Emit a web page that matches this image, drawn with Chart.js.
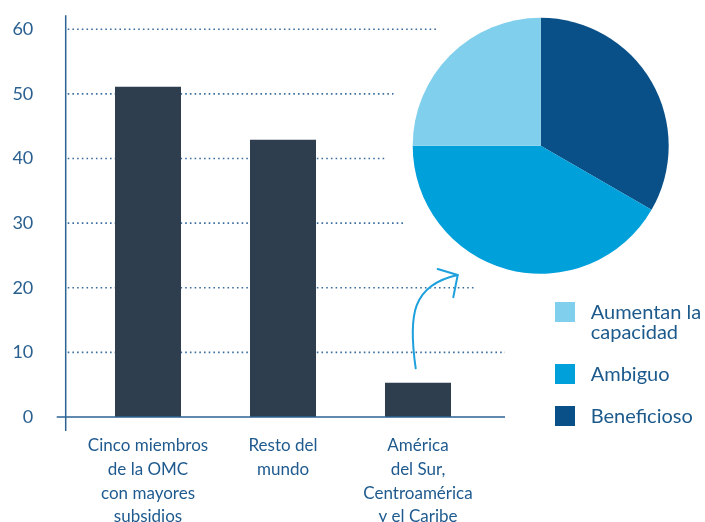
<!DOCTYPE html>
<html lang="es">
<head>
<meta charset="utf-8">
<script src="https://cdn.jsdelivr.net/npm/chart.js@4"></script>
<style>
  html, body { margin: 0; padding: 0; background: #ffffff; }
  #wrap { position: relative; width: 705px; height: 522px; overflow: hidden; }
  #wrap canvas { position: absolute; left: 0; top: 0; }
  #legend {
    position: absolute; left: 555px; top: 302px;
    display: flex; flex-direction: column; gap: 22.5px;
    font-family: Lato, "Open Sans", sans-serif; font-size: 20px; line-height: 19.5px;
    color: #1d5a8c;
  }
  .item { display: flex; align-items: flex-start; }
  .swatch { width: 20px; height: 20px; flex: none; margin-right: 15.7px; }
</style>
</head>
<body>
<div id="wrap">
  <canvas id="bars" width="705" height="522"></canvas>
  <canvas id="pie" width="705" height="522"></canvas>
  <div id="legend"></div>
</div>
<script>
// Bar chart: share of subsidies by group of members
const barCategories = [
  ['Cinco miembros', 'de la OMC', 'con mayores', 'subsidios'],
  ['Resto del', 'mundo'],
  ['América', 'del Sur,', 'Centroamérica', 'y el Caribe']
];
const barValues = [51.1, 42.9, 5.3];
const yTicks = [0, 10, 20, 30, 40, 50, 60];

// Pie chart: classification of subsidies (drawn clockwise from the top)
const pieLabels = ['Beneficioso', 'Ambiguo', ['Aumentan la', 'capacidad']];
const pieValues = [4, 5, 3];
const pieColors = ['#0a5088', '#00a0db', '#80cfed'];

const BAR_COLOR = '#2e3e4f';
const AXIS_COLOR = '#2d6393';
const GRID_COLOR = '#3a6e9e';
const TEXT_COLOR = '#1f5a8e';
const HALO = 28;          // white clearance around the pie
const GRID_RIGHT = 505;   // right end of the gridlines and the x axis

// shared geometry of the pie
const pieGeom = { x: 540.7, y: 145.8, r: 128 };

// Dotted gridlines, cut short around the pie, plus the two axis lines
const barDecor = {
  id: 'barDecor',
  beforeDatasetsDraw(chart) {
    const ctx = chart.ctx;
    const ys = chart.scales.y;
    const axisX = chart.chartArea.left - 14.8;
    const R = pieGeom.r + HALO;
    ctx.save();
    ctx.strokeStyle = GRID_COLOR;
    ctx.lineWidth = 1.6;
    ctx.setLineDash([1.6, 3.1]);
    yTicks.forEach(v => {
      if (v === 0) return;
      const py = ys.getPixelForValue(v);
      let end = GRID_RIGHT;
      const dy = py - pieGeom.y;
      if (Math.abs(dy) < R) end = Math.min(end, pieGeom.x - Math.sqrt(R * R - dy * dy));
      ctx.beginPath();
      ctx.moveTo(axisX + 2, py);
      ctx.lineTo(end, py);
      ctx.stroke();
    });
    ctx.restore();
  },
  afterDatasetsDraw(chart) {
    const ctx = chart.ctx;
    const ys = chart.scales.y;
    const axisX = chart.chartArea.left - 14.8;
    const y0 = ys.getPixelForValue(0);
    ctx.save();
    ctx.strokeStyle = AXIS_COLOR;
    ctx.lineWidth = 1.5;
    ctx.beginPath();
    ctx.moveTo(axisX, ys.getPixelForValue(60) - 14);
    ctx.lineTo(axisX, y0 + 14);
    ctx.moveTo(axisX - 9, y0);
    ctx.lineTo(GRID_RIGHT, y0);
    ctx.stroke();
    ctx.restore();
  }
};

new Chart(document.getElementById('bars'), {
  type: 'bar',
  data: {
    labels: barCategories,
    datasets: [{
      data: barValues,
      backgroundColor: BAR_COLOR,
      borderWidth: 0,
      categoryPercentage: 1,
      barPercentage: 0.489
    }]
  },
  options: {
    responsive: false,
    animation: false,
    devicePixelRatio: 1,
    layout: { padding: { top: 29.3, right: 219.5, left: 0, bottom: 0 } },
    plugins: { legend: { display: false }, tooltip: { enabled: false } },
    scales: {
      x: {
        grid: { display: false, drawTicks: false },
        border: { display: false },
        ticks: {
          color: TEXT_COLOR,
          padding: 17,
          maxRotation: 0,
          autoSkip: false,
          font: { family: 'Lato', size: 17, lineHeight: '23.7px' }
        },
        afterFit(scale) { scale.height = 105; }
      },
      y: {
        min: 0, max: 60,
        grid: { display: false, drawTicks: false },
        border: { display: false },
        ticks: {
          stepSize: 10,
          color: '#2a6090',
          padding: 47.2,
          font: { family: 'Lato', size: 18 }
        },
        afterFit(scale) {
          scale.width = 80.5;
          scale.paddingTop = 0;
          scale.paddingBottom = 0;
        }
      }
    }
  },
  plugins: [barDecor]
});

// White halo behind the pie and the curved arrow pointing to it
const pieDecor = {
  id: 'pieDecor',
  beforeDatasetsDraw(chart) {
    const arc = chart.getDatasetMeta(0).data[0];
    const ctx = chart.ctx;
    ctx.save();
    ctx.fillStyle = '#ffffff';
    ctx.beginPath();
    ctx.arc(arc.x, arc.y, arc.outerRadius + HALO, 0, Math.PI * 2);
    ctx.fill();
    ctx.restore();
  },
  afterDraw(chart) {
    const ctx = chart.ctx;
    ctx.save();
    ctx.strokeStyle = '#1ea0dc';
    ctx.lineWidth = 2;
    ctx.lineCap = 'round';
    ctx.lineJoin = 'round';
    ctx.beginPath();
    ctx.moveTo(415.7, 368.3);
    ctx.bezierCurveTo(408, 315, 412, 285, 457.7, 275);
    ctx.stroke();
    ctx.beginPath();
    ctx.moveTo(437.7, 269);
    ctx.lineTo(457.7, 275);
    ctx.lineTo(453.3, 297.3);
    ctx.stroke();
    ctx.restore();
  }
};

new Chart(document.getElementById('pie'), {
  type: 'pie',
  data: {
    labels: pieLabels,
    datasets: [{
      data: pieValues,
      backgroundColor: pieColors,
      borderWidth: 0
    }]
  },
  options: {
    responsive: false,
    animation: false,
    devicePixelRatio: 1,
    layout: { padding: { left: 412.7, right: 36.3, top: 17.8, bottom: 248.2 } },
    plugins: { legend: { display: false }, tooltip: { enabled: false } }
  },
  plugins: [pieDecor]
});

// Legend, listed in the reverse of the drawing order
const legend = document.getElementById('legend');
pieLabels.map((l, i) => ({ l, c: pieColors[i] })).reverse().forEach(({ l, c }) => {
  const item = document.createElement('div');
  item.className = 'item';
  const sw = document.createElement('div');
  sw.className = 'swatch';
  sw.style.background = c;
  const tx = document.createElement('div');
  tx.innerHTML = (Array.isArray(l) ? l : [l]).join('<br>');
  item.appendChild(sw);
  item.appendChild(tx);
  legend.appendChild(item);
});
</script>
</body>
</html>
